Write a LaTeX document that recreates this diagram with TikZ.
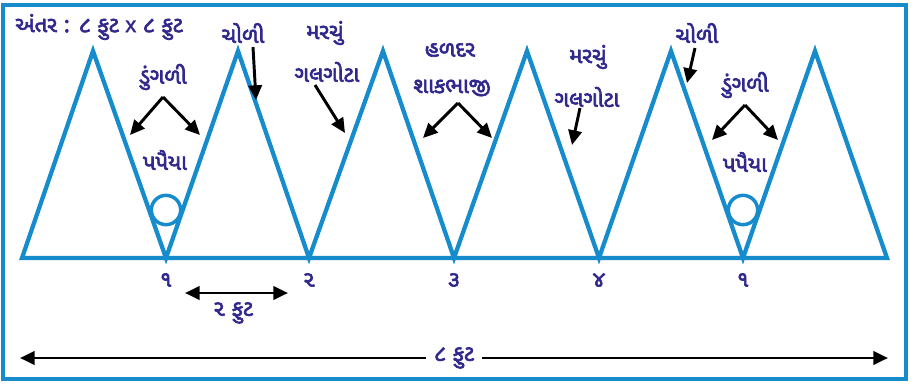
\documentclass[tikz,border=0pt]{standalone}
\usepackage{fontspec}
\newfontfamily\gujfont[Script=Gujarati,AutoFakeBold=3]{Noto Sans Gujarati UI}
\newfontfamily\latfont[AutoFakeBold=1.5]{Liberation Sans}
\usetikzlibrary{arrows.meta}
\definecolor{bedblue}{RGB}{22,140,205}
\definecolor{txtblue}{RGB}{48,40,140}
\tikzset{
  bed/.style={draw=bedblue,line width=3.2pt,line join=miter},
  lbl/.style={font=\gujfont\bfseries\fontsize{16.5}{19}\selectfont,text=txtblue,inner sep=1pt},
  arr/.style={-{Triangle[length=11pt,width=10pt]},line width=2.2pt,black},
  darr/.style={{Triangle[length=11pt,width=10pt]}-{Triangle[length=11pt,width=10pt]},line width=2.2pt,black}
}

\begin{document}
\begin{tikzpicture}[x=0.75pt,y=-0.75pt]
  \useasboundingbox (0,0) rectangle (915,383);
  % frame
  \draw[bed] (3,5) rectangle (906,379);

  % beds (zig-zag rows)
  \draw[bed] (22,258) -- (93,51) -- (166,258) -- (238,51) -- (309,258) -- (383,51)
    -- (454,258) -- (527,51) -- (599,258) -- (671,51) -- (743,258) -- (815,51)
    -- (887,258) -- cycle;
  \draw[bed,line width=2.6pt] (166,210) circle[radius=11pt];
  \draw[bed,line width=2.6pt] (743,210) circle[radius=11pt];

  % labels
  \node[lbl] (title) at (99,27) {અંતર : ૮ ફુટ {\latfont\bfseries x} ૮ ફુટ};
  \node[lbl] (choli1) at (243,33) {ચોળી};
  \node[lbl] (dung1) at (163,77) {ડુંગળી};
  \node[lbl] (pap1) at (165,160) {પપૈયા};
  \node[lbl] (mar1) at (325,33) {મરચું};
  \node[lbl] (gal1) at (327,72) {ગલગોટા};
  \node[lbl] (hal) at (450,50) {હળદર};
  \node[lbl] (shak) at (452,88) {શાકભાજી};
  \node[lbl] (mar2) at (588,57) {મરચું};
  \node[lbl] (gal2) at (587,97) {ગલગોટા};
  \node[lbl] (choli2) at (697,33) {ચોળી};
  \node[lbl] (dung2) at (745,85) {ડુંગળી};
  \node[lbl] (pap2) at (745,162) {પપૈયા};

  % row numbers
  \node[lbl] (n1) at (166,280) {૧};
  \node[lbl] (n2) at (309,280) {૨};
  \node[lbl] (n3) at (454,280) {૩};
  \node[lbl] (n4) at (599,280) {૪};
  \node[lbl] (n5) at (743,280) {૧};

  % arrow ends
  \coordinate (c1a) at (253,47);  \coordinate (c1b) at (256,100);
  \coordinate (d1a) at (163,97);  \coordinate (d1l) at (130,135); \coordinate (d1r) at (200,135);
  \coordinate (g1a) at (315,85);  \coordinate (g1b) at (345,133);
  \coordinate (s1a) at (458,103); \coordinate (s1l) at (423,138); \coordinate (s1r) at (492,138);
  \coordinate (g2a) at (580,108); \coordinate (g2b) at (572,145);
  \coordinate (c2a) at (695,48);  \coordinate (c2b) at (687,83);
  \coordinate (d2a) at (745,105); \coordinate (d2l) at (712,140); \coordinate (d2r) at (778,140);

  \draw[arr] (c1a) -- (c1b);
  \draw[arr] (d1a) -- (d1l);
  \draw[arr] (d1a) -- (d1r);
  \draw[arr] (g1a) -- (g1b);
  \draw[arr] (s1a) -- (s1l);
  \draw[arr] (s1a) -- (s1r);
  \draw[arr] (g2a) -- (g2b);
  \draw[arr] (c2a) -- (c2b);
  \draw[arr] (d2a) -- (d2l);
  \draw[arr] (d2a) -- (d2r);

  % spacing
  \coordinate (sp2l) at (185,293); \coordinate (sp2r) at (288,293);
  \draw[darr] (sp2l) -- (sp2r);
  \node[lbl] (ft2) at (233,313) {૨ ફુટ};
  \coordinate (sp8l) at (20,358); \coordinate (sp8r) at (888,358);
  \draw[darr] (sp8l) -- node[lbl,fill=white,inner xsep=6pt] (ft8) {૮ ફુટ} (sp8r);
\end{tikzpicture}
\end{document}
